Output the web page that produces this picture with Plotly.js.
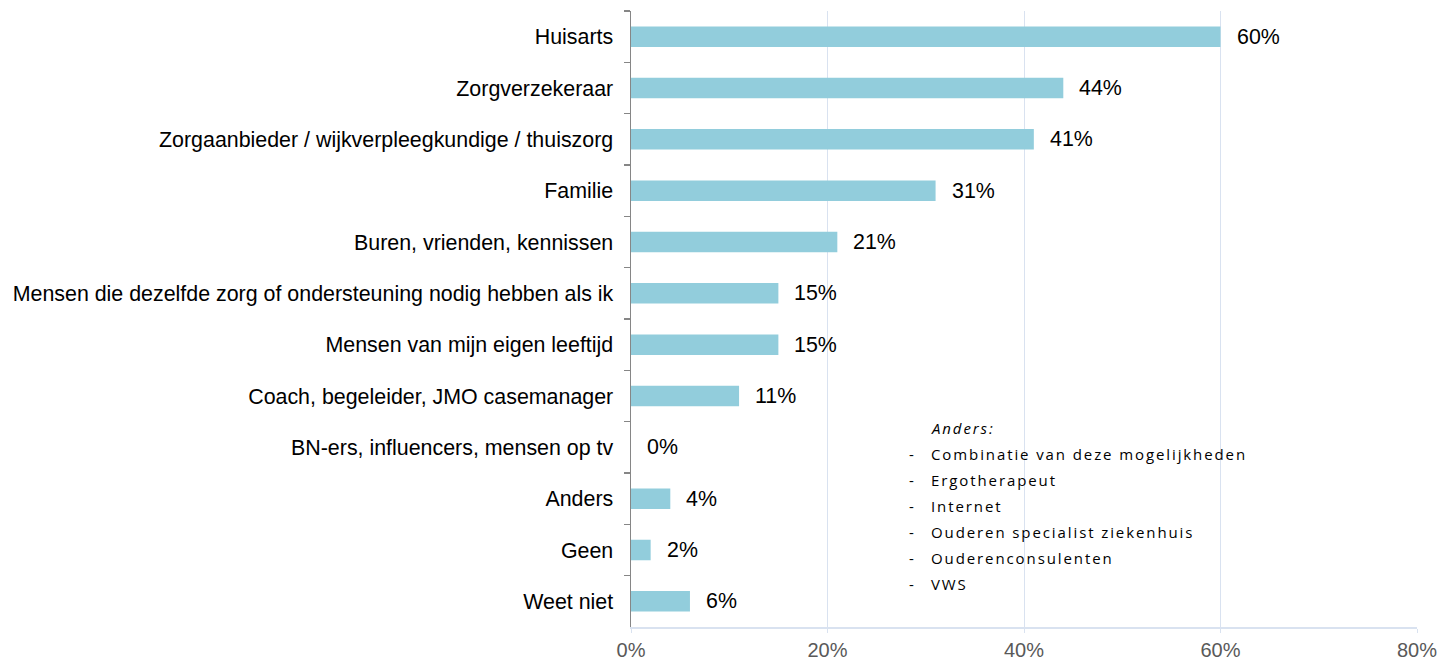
<!DOCTYPE html>
<html>
<head>
<meta charset="utf-8">
<script src="https://cdn.plot.ly/plotly-3.0.1.min.js"></script>
<style>
html,body{margin:0;padding:0;background:#fff;}
#chart{width:1441px;height:663px;}
text.annotation-text[style*="Open Sans"]{letter-spacing:1.9px;}
</style>
</head>
<body>
<div id="chart"></div>
<script>
const categories = [
  "Huisarts",
  "Zorgverzekeraar",
  "Zorgaanbieder / wijkverpleegkundige / thuiszorg",
  "Familie",
  "Buren, vrienden, kennissen",
  "Mensen die dezelfde zorg of ondersteuning nodig hebben als ik",
  "Mensen van mijn eigen leeftijd",
  "Coach, begeleider, JMO casemanager",
  "BN-ers, influencers, mensen op tv",
  "Anders",
  "Geen",
  "Weet niet"
];
const values = [60, 44, 41, 31, 21, 15, 15, 11, 0, 4, 2, 6];
const xTickVals = [0, 20, 40, 60, 80];
const xTickText = ["0%", "20%", "40%", "60%", "80%"];
const andersTitle = "Anders:";
const andersItems = [
  "Combinatie van deze mogelijkheden",
  "Ergotherapeut",
  "Internet",
  "Ouderen specialist ziekenhuis",
  "Ouderenconsulenten",
  "VWS"
];

const FONT = 'Liberation Sans, Arial, sans-serif';
const annotations = [];
categories.forEach((c, i) => {
  annotations.push({
    x: values[i], y: c, xref: 'x', yref: 'y',
    text: values[i] + '%', showarrow: false,
    xanchor: 'left', yanchor: 'middle', xshift: 14,
    font: {family: FONT, size: 21.4, color: '#000'}
  });
});
const boxX = 0.3515, boxX2 = 0.3795;
const topY = (627 - 428) / 616;
const step = 26 / 616;
const andersFont = {family: 'Open Sans, sans-serif', size: 15, color: '#000'};
annotations.push({
  x: boxX2, y: topY, xref: 'paper', yref: 'paper', showarrow: false,
  xanchor: 'left', yanchor: 'middle', align: 'left', text: '<i>' + andersTitle + '</i>',
  font: andersFont
});
andersItems.forEach((t, i) => {
  const y = topY - step * (i + 1);
  annotations.push({
    x: boxX, y: y, xref: 'paper', yref: 'paper', showarrow: false,
    xanchor: 'left', yanchor: 'middle', align: 'left', text: '-',
    font: andersFont
  });
  annotations.push({
    x: boxX2, y: y, xref: 'paper', yref: 'paper', showarrow: false,
    xanchor: 'left', yanchor: 'middle', align: 'left', text: t,
    font: andersFont
  });
});

const trace = {
  type: 'bar', orientation: 'h',
  x: values, y: categories,
  marker: {color: '#92CDDC', line: {width: 0}},
  hoverinfo: 'x+y'
};

const layout = {
  width: 1441, height: 663,
  margin: {l: 631, r: 24, t: 11, b: 36, pad: 0},
  paper_bgcolor: '#fff', plot_bgcolor: '#fff',
  showlegend: false,
  bargap: 0.6,
  font: {family: FONT, size: 21, color: '#000'},
  xaxis: {
    range: [0, 80], tickvals: xTickVals, ticktext: xTickText,
    showgrid: true, gridcolor: '#D9E2F0', gridwidth: 1,
    zeroline: false, showline: true, linecolor: '#D9E2F0', linewidth: 2,
    ticks: 'outside', ticklen: 4, tickcolor: '#D9E2F0', tickwidth: 1,
    tickfont: {family: FONT, size: 20, color: '#595959'},
    fixedrange: true
  },
  yaxis: {
    type: 'category', autorange: 'reversed',
    showline: true, linecolor: '#868686', linewidth: 1.5,
    ticks: 'outside', tickson: 'boundaries', ticklen: 6, tickcolor: '#868686', tickwidth: 1.5,
    ticklabelstandoff: 12,
    showgrid: false, zeroline: false,
    tickfont: {family: FONT, size: 21.4, color: '#000'},
    fixedrange: true
  },
  annotations: annotations
};

Plotly.newPlot('chart', [trace], layout, {displayModeBar: false, staticPlot: true});
</script>
</body>
</html>
